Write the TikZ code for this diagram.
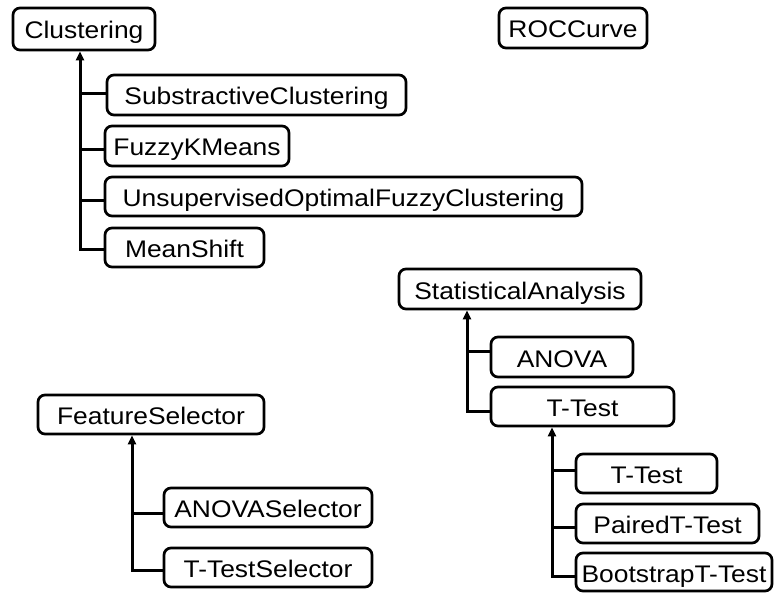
\documentclass[tikz,border=0pt]{standalone}
\usepackage{fontspec}
\setmainfont{Liberation Sans}[FakeStretch=1.1]
\usetikzlibrary{arrows.meta}
\tikzset{
  box/.style={draw, line width=2.7pt, rounded corners=7pt, inner sep=0pt,
    text height=21pt, text depth=1pt, font=\fontsize{24}{27}\selectfont},
  conn/.style={line width=3pt},
  arr/.style={conn, -{Triangle[length=9pt,width=8pt]}}
}
\begin{document}
\begin{tikzpicture}[x=1pt,y=-1pt]
\useasboundingbox (0,0) rectangle (775,593);
% Clustering group
\node[box, minimum width=142pt, minimum height=42pt] (cl) at (84,29) {Clustering};
\node[box, minimum width=148pt, minimum height=40pt] (roc) at (573,28) {ROCCurve};
\node[box, minimum width=299pt, minimum height=40pt] (sc) at (256.5,95) {SubstractiveClustering};
\node[box, minimum width=184pt, minimum height=40pt] (fk) at (197,146) {FuzzyKMeans};
\node[box, minimum width=477pt, minimum height=39pt] (uo) at (343.5,196.5) {UnsupervisedOptimalFuzzyClustering};
\node[box, minimum width=159pt, minimum height=39pt] (ms) at (184.5,247.5) {MeanShift};
% Statistical group
\node[box, minimum width=242pt, minimum height=40pt] (sa) at (520,289) {StatisticalAnalysis};
\node[box, minimum width=142pt, minimum height=40pt] (an) at (562,357) {ANOVA};
\node[box, minimum width=183pt, minimum height=39pt] (tt) at (582.5,406.5) {T-Test};
\node[box, minimum width=141pt, minimum height=39pt] (tt1) at (646.5,473.5) {T-Test};
\node[box, minimum width=183pt, minimum height=39pt] (pt) at (667.5,523.5) {PairedT-Test};
\node[box, minimum width=196pt, minimum height=38pt] (bt) at (674,572) {BootstrapT-Test};
% Feature selector group
\node[box, minimum width=226pt, minimum height=39pt] (fs) at (151,414.5) {FeatureSelector};
\node[box, minimum width=208pt, minimum height=39pt] (as) at (268,507.5) {ANOVASelector};
\node[box, minimum width=208pt, minimum height=39pt] (ts) at (268,567.5) {T-TestSelector};
% trunk coordinates
\coordinate (clx) at (80,0);
\coordinate (sax) at (467,0);
\coordinate (ttx) at (552,0);
\coordinate (fsx) at (132,0);
% branch points
\path ([yshift=1pt]sc.west) coordinate (scb)
      ([yshift=-4pt]fk.west) coordinate (fkb)
      ([yshift=-4.5pt]uo.west) coordinate (uob)
      ([yshift=-2.5pt]ms.west) coordinate (msb)
      ([yshift=6pt]an.west) coordinate (anb)
      ([yshift=-4.5pt]tt.west) coordinate (ttb)
      ([yshift=3pt]tt1.west) coordinate (tt1b)
      ([yshift=-3.5pt]pt.west) coordinate (ptb)
      ([yshift=-4pt]bt.west) coordinate (btb)
      ([yshift=-5.5pt]as.west) coordinate (asb)
      ([yshift=-2.5pt]ts.west) coordinate (tsb);
% Clustering connectors
\draw[arr] (msb) -| (cl.south -| clx);
\draw[conn] (scb) -- (scb -| clx);
\draw[conn] (fkb) -- (fkb -| clx);
\draw[conn] (uob) -- (uob -| clx);
% Statistical connectors
\draw[arr] (ttb) -| (sa.south -| sax);
\draw[conn] (anb) -- (anb -| sax);
\draw[arr] (btb) -| (tt.south -| ttx);
\draw[conn] (tt1b) -- (tt1b -| ttx);
\draw[conn] (ptb) -- (ptb -| ttx);
% Feature selector connectors
\draw[arr] (tsb) -| (fs.south -| fsx);
\draw[conn] (asb) -- (asb -| fsx);
\end{tikzpicture}
\end{document}
